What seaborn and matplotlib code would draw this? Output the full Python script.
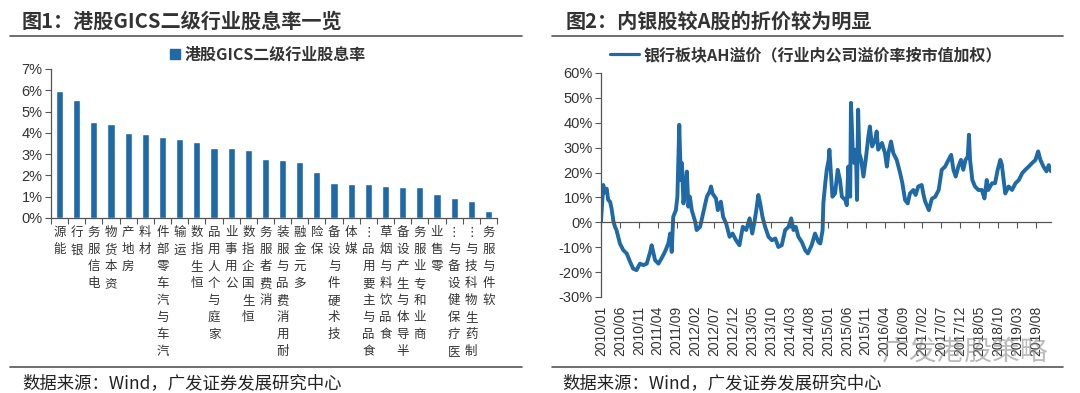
import matplotlib
matplotlib.use("Agg")
import numpy as np
import pandas as pd
import matplotlib.pyplot as plt
import seaborn as sns
from matplotlib.lines import Line2D
from matplotlib.patches import Patch
from matplotlib.ticker import MultipleLocator, FuncFormatter

# --- data: figure 1, HK GICS level-2 dividend yield (%) ---
industries = ['能源', '银行', '电信服务', '资本货物', '房地产', '材料', '汽车与汽车零部件',
              '运输', '恒生指数', '家庭与个人用品', '公用事业', '恒生国企指数', '消费者服务',
              '耐用消费品与服装', '多元金融', '保险', '技术硬件与设备', '媒体', '食品与主要用品…',
              '食品饮料与烟草', '半导体与生产设备', '商业和专业服务', '零售业', '医疗保健设备与…',
              '制药生物科技与…', '软件与服务']
div_yield = [5.95, 5.55, 4.5, 4.4, 4.0, 3.93, 3.8, 3.7, 3.55, 3.3, 3.3, 3.18, 2.75,
             2.72, 2.62, 2.17, 1.65, 1.6, 1.6, 1.5, 1.47, 1.47, 1.15, 0.92, 0.82, 0.35]

# --- data: figure 2, bank AH premium (%), x = months since 2010/01 ---
months = [0, 0.6, 1.0, 1.5, 1.9, 2.4, 2.8, 3.3, 3.7, 4.1, 5.0, 5.9, 6.8, 7.7, 8.5, 9.4,
          10.3, 11.2, 12.1, 13.0, 13.4, 14.3, 15.2, 16.0, 16.9, 17.8, 18.3, 18.7, 19.1,
          19.8, 20.2, 20.7, 21.1, 21.4, 21.8, 22.2, 22.7, 23.1, 23.5, 24.0, 24.9, 25.3,
          26.2, 27.0, 28.0, 28.7, 29.1, 29.5, 30.4, 30.9, 31.7, 32.3, 33.1, 34.0, 34.8,
          35.7, 36.6, 37.5, 38.4, 39.3, 40.0, 40.6, 41.2, 41.6, 42.1, 42.7, 43.4, 44.3,
          45.2, 46.1, 46.9, 47.8, 48.7, 49.6, 50.3, 50.9, 51.5, 52.2, 53.1, 54.0, 54.7,
          55.7, 56.6, 57.5, 58.0, 58.6, 58.8, 59.3, 59.7, 60.2, 60.4, 60.8, 61.2, 61.9,
          62.6, 63.2, 63.7, 64.6, 65.0, 65.4, 65.9, 66.1, 66.6, 67.0, 67.4, 67.7, 68.0,
          68.3, 68.8, 69.4, 70.0, 70.7, 71.1, 71.7, 72.5, 72.9, 73.3, 74.3, 75.1, 75.6,
          76.0, 76.7, 77.3, 78.2, 79.1, 79.7, 80.4, 81.1, 81.7, 82.6, 83.2, 83.9, 84.8,
          85.3, 85.7, 86.7, 87.5, 88.4, 89.3, 90.1, 91.0, 91.9, 92.6, 93.2, 93.8, 94.5,
          95.2, 95.8, 96.4, 97.0, 97.3, 97.6, 98.2, 98.9, 99.8, 100.7, 101.4, 102.0,
          102.4, 103.4, 104.2, 104.9, 105.6, 106.0, 106.9, 107.8, 108.7, 109.6, 110.5,
          111.4, 112.2, 113.1, 114.0, 114.9, 115.6, 116.2, 117.0, 117.8, 118.4, 119.0]
premium = [0.3, 15.0, 12.0, 13.5, 9.0, 8.3, 5.5, 0.3, -1.8, -3.1, -8.5, -11.2, -12.5, -15.9,
           -18.6, -19.2, -16.6, -17.2, -16.6, -11.9, -9.2, -15.2, -16.6, -14.5, -11.9, -8.5,
           -4.5, -11.9, 2.2, 4.9, 10.3, 39.2, 17.0, 23.8, 7.6, 13.0, 20.4, 6.3, 10.3, 4.9,
           0.3, -3.1, -1.8, 3.6, 10.3, 12.3, 14.4, 11.6, 9.6, 4.9, 8.3, 2.2, -0.5, -5.8,
           -4.5, -7.2, -9.2, -1.8, -3.1, 1.6, -4.5, 0.3, 6.3, 11.0, 7.6, 2.2, -1.8, -5.8,
           -7.2, -6.5, -9.9, -9.2, -3.1, -1.8, 1.6, -3.1, -1.8, -5.8, -7.9, -11.2, -12.5,
           -9.2, -4.5, -7.9, -8.5, -3.1, 7.6, 15.7, 21.1, 25.1, 29.2, 19.8, 10.3, 11.6,
           21.1, 17.0, 10.3, 9.0, 6.9, 22.4, 10.3, 48.0, 27.8, 23.8, 29.2, 9.0, 45.3,
           27.8, 25.1, 18.4, 25.1, 34.5, 38.5, 30.5, 33.2, 36.5, 29.2, 31.9, 27.8, 22.4,
           27.8, 32.5, 27.8, 25.1, 19.8, 15.7, 9.0, 7.6, 11.6, 13.0, 11.0, 14.4, 15.0,
           11.0, 8.5, 4.9, 9.5, 10.3, 13.0, 21.1, 22.4, 25.1, 27.1, 21.1, 18.4, 22.4,
           25.1, 21.1, 25.1, 26.4, 35.2, 25.1, 17.0, 14.4, 13.0, 13.0, 9.6, 17.0,
           13.0, 15.7, 15.7, 21.1, 25.1, 23.2, 11.6, 14.4, 13.0, 15.7, 17.0,
           19.8, 21.1, 22.4, 23.8, 25.1, 28.5, 25.1, 22.4, 20.5, 23.0, 20.5]
date_ticks = ['2010/01', '2010/06', '2010/11', '2011/04', '2011/09', '2012/02', '2012/07',
              '2012/12', '2013/05', '2013/10', '2014/03', '2014/08', '2015/01', '2015/06',
              '2015/11', '2016/04', '2016/09', '2017/02', '2017/07', '2017/12', '2018/05',
              '2018/10', '2019/03', '2019/08']

BLUE = '#1f69a6'
TXT = '#333333'
AXC = '#555555'
W, H = 1080, 393

sns.set_theme(style='white')
plt.rcParams['font.family'] = ['Noto Sans CJK SC', 'DejaVu Sans']
plt.rcParams['axes.unicode_minus'] = False
NUM = ['Liberation Sans', 'DejaVu Sans']


def box(l, t, r, b):
    return [l / W, 1 - b / H, (r - l) / W, (b - t) / H]


def pct(v, pos):
    return f'{v:.0f}%'


def stacked(name):
    # upright characters stacked bottom-to-top, like the Excel labels
    return '\n'.join(reversed(name.replace('…', '⋮')))


fig = plt.figure(figsize=(10.8, 3.93), dpi=100)

# ---------------- figure 1 ----------------
ax1 = fig.add_axes(box(51, 69, 497, 218))
df1 = pd.DataFrame({'industry': industries, 'yield': div_yield})
sns.barplot(data=df1, x='industry', y='yield', color=BLUE, saturation=1, width=0.42, ax=ax1)
ax1.set_xlim(-0.5, len(industries) - 0.5)
ax1.set_ylim(0, 7)
ax1.set_xlabel('')
ax1.set_ylabel('')
ax1.yaxis.set_major_locator(MultipleLocator(1))
ax1.yaxis.set_major_formatter(FuncFormatter(pct))
ax1.set_xticks(range(len(industries)))
ax1.set_xticklabels([stacked(s) for s in industries], rotation=0, fontsize=9,
                    color=TXT, linespacing=1.4, va='top', ha='center')
ax1.set_xticks(np.arange(-0.5, len(industries), 1), minor=True)
ax1.tick_params(axis='x', which='major', length=0, pad=6)
ax1.tick_params(axis='x', which='minor', bottom=True, length=4, width=0.8, color=AXC, direction='out')
ax1.tick_params(axis='y', left=True, length=4, width=0.8, color=AXC, direction='out',
                labelsize=10.5, labelcolor=TXT, pad=2)
for t in ax1.get_yticklabels():
    t.set_family(NUM)

# ---------------- figure 2 ----------------
ax2 = fig.add_axes(box(601, 73, 1051, 297))
df2 = pd.DataFrame({'month': months, 'premium': premium})
sns.lineplot(data=df2, x='month', y='premium', color=BLUE, linewidth=2.8,
             estimator=None, sort=False, ax=ax2)
ax2.set_xlim(0, 119)
ax2.set_ylim(-30, 60)
ax2.set_xlabel('')
ax2.set_ylabel('')
ax2.spines['bottom'].set_position(('data', 0))
ax2.yaxis.set_major_locator(MultipleLocator(10))
ax2.yaxis.set_major_formatter(FuncFormatter(pct))
ax2.set_xticks(np.arange(len(date_ticks)) * 5)
ax2.set_xticklabels(date_ticks, rotation=90, fontsize=10, color=TXT, family=NUM)
ax2.tick_params(axis='x', bottom=True, length=4, width=0.8, color=AXC, direction='out', pad=56)
ax2.tick_params(axis='y', left=True, length=4, width=0.8, color=AXC, direction='out',
                labelsize=10.5, labelcolor=TXT, pad=2)
for t in ax2.get_yticklabels():
    t.set_family(NUM)

for ax in (ax1, ax2):
    sns.despine(ax=ax)
    for s in ('left', 'bottom'):
        ax.spines[s].set_color(AXC)
        ax.spines[s].set_linewidth(0.9)

# legends
fig.legend(handles=[Patch(color=BLUE, label='港股GICS二级行业股息率')], loc='center',
           bbox_to_anchor=(268 / W, 1 - 55 / H), frameon=False, handlelength=0.6,
           handleheight=0.6, handletextpad=0.3, prop={'size': 11.5, 'weight': 'bold'},
           labelcolor=TXT)
fig.legend(handles=[Line2D([], [], color=BLUE, lw=2.3, label='银行板块AH溢价（行业内公司溢价率按市值加权）')],
           loc='center', bbox_to_anchor=(806 / W, 1 - 55 / H), frameon=False, handlelength=1.8,
           handletextpad=0.3, prop={'size': 11.5, 'weight': 'bold'}, labelcolor=TXT)

# titles, rules and source notes
fig.text(22 / W, 1 - 21 / H, '图1：港股GICS二级行业股息率一览', fontsize=14.5, fontweight='bold',
         color=TXT, va='center')
fig.text(566 / W, 1 - 21 / H, '图2：内银股较A股的折价较为明显', fontsize=14.5, fontweight='bold',
         color=TXT, va='center')
for x0, x1 in ((10, 522), (552, 1063)):
    fig.add_artist(Line2D([x0 / W, x1 / W], [1 - 35.5 / H] * 2, color=AXC, lw=1.2))
    fig.add_artist(Line2D([x0 / W, x1 / W], [1 - 366.5 / H] * 2, color=AXC, lw=1.2))
fig.text(22 / W, 1 - 383 / H, '数据来源：Wind，广发证券发展研究中心', fontsize=12.5, color='#222222', va='center')
fig.text(562 / W, 1 - 383 / H, '数据来源：Wind，广发证券发展研究中心', fontsize=12.5, color='#222222', va='center')

# faint watermark of the original screenshot
fig.text(965 / W, 1 - 352 / H, '广发港股策略', fontsize=20, color='#8f8f8f', alpha=0.6,
         ha='center', va='center')

fig.savefig('out.png', dpi=100, facecolor='white')
